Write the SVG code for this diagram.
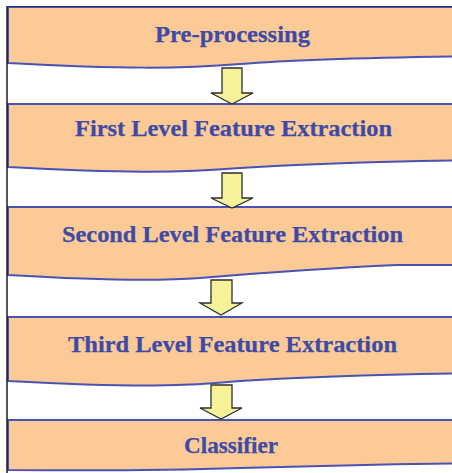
<svg xmlns="http://www.w3.org/2000/svg" width="452" height="473" viewBox="0 0 452 473">
  <style>
    .box { fill: #fbca96; stroke: #4a52b4; stroke-width: 2; }
    .label { font-family: "Liberation Serif", "Times New Roman", serif; font-weight: bold; font-size: 24px; fill: #3d4ba6; text-anchor: middle; stroke: #3d4ba6; stroke-width: 0.25; }
    .arrow { fill: #f6f29a; stroke: #2e2e2e; stroke-width: 1.3; stroke-linejoin: miter; }
  </style>
  <rect x="0" y="0" width="452" height="473" fill="#ffffff"/>

  <!-- process steps: peach bands with wavy lower edges -->
  <g id="preprocessing">
    <path class="box" d="M8,7 H480 V56 C400,57 300,59 240,64 C180,69 120,69 8,63 Z"/>
    <text class="label" x="232.5" y="42" textLength="155" lengthAdjust="spacingAndGlyphs">Pre-processing</text>
  </g>
  <g id="first-level">
    <path class="box" d="M8,104 H480 V160 C400,161 300,164 240,168 C180,173 120,173 8,167 Z"/>
    <text class="label" x="233.5" y="136" textLength="317" lengthAdjust="spacingAndGlyphs">First Level Feature Extraction</text>
  </g>
  <g id="second-level">
    <path class="box" d="M8,207 H480 V265 L397,265 C330,268 260,273 200,278 C160,281 110,281 8,275 Z"/>
    <text class="label" x="232.5" y="242" textLength="341" lengthAdjust="spacingAndGlyphs">Second Level Feature Extraction</text>
  </g>
  <g id="third-level">
    <path class="box" d="M8,317 H480 V373 C400,374 300,377 240,381 C190,386 140,388 8,381 Z"/>
    <text class="label" x="232.5" y="352" textLength="329" lengthAdjust="spacingAndGlyphs">Third Level Feature Extraction</text>
  </g>
  <g id="classifier">
    <path class="box" d="M8,420 H480 V463 C400,464 300,466 240,468 C180,470 120,471 8,470 Z"/>
    <text class="label" x="231" y="453" textLength="94" lengthAdjust="spacingAndGlyphs">Classifier</text>
  </g>

  <!-- block arrows between steps -->
  <g id="connectors">
    <path class="arrow" d="M222,68 H242 V93 H253 L232,104 L211,93 H222 Z"/>
    <path class="arrow" d="M222,173 H242 V198 H253 L232,208 L211,198 H222 Z"/>
    <path class="arrow" d="M211,280 H232 V303 H242 L221,315 L200,303 H211 Z"/>
    <path class="arrow" d="M211,385 H232 V408 H242 L221,419 L200,408 H211 Z"/>
  </g>

  <!-- frame edge on the left and top -->
  <line x1="7" y1="6" x2="7" y2="473" stroke="#1c1c2a" stroke-width="1.5"/>
  <line x1="7" y1="6.5" x2="452" y2="6.5" stroke="#2a2f6e" stroke-width="1.2"/>
</svg>
